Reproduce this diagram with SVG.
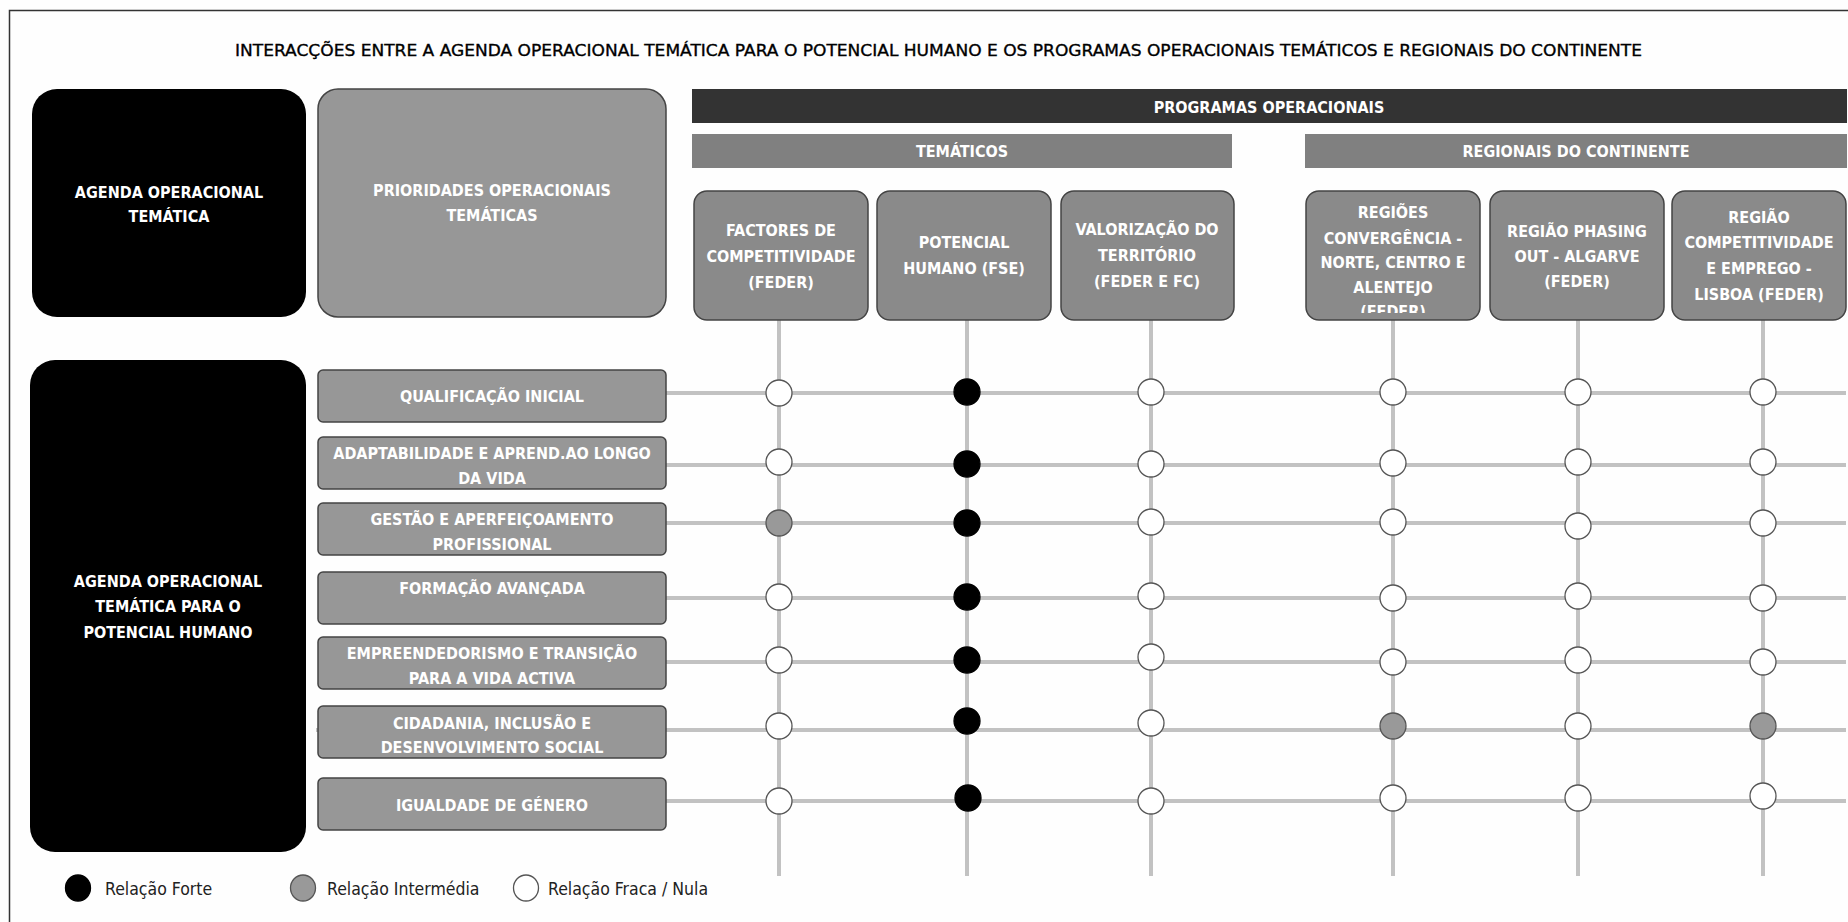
<svg xmlns="http://www.w3.org/2000/svg" width="1848" height="922" viewBox="0 0 1848 922">
<defs>
<style>
.title{font-family:"DejaVu Sans","Liberation Sans",sans-serif;font-size:16px;fill:#000;stroke:#000;stroke-width:0.35}
.lbl{font-family:"DejaVu Sans Condensed","DejaVu Sans",sans-serif;font-weight:bold;font-size:16px;fill:#fff;text-anchor:middle}
.leg{font-family:"DejaVu Sans Condensed","DejaVu Sans",sans-serif;font-size:17.5px;fill:#222}
.blk{fill:#000}
.gbox{fill:#979797;stroke:#444;stroke-width:1.5}
.hbox{fill:#8a8a8a;stroke:#444;stroke-width:1.5}
.line{stroke:#c2c2c2;stroke-width:4;fill:none}
.w{fill:#fff;stroke:#555;stroke-width:1.3}
.g{fill:#999;stroke:#555;stroke-width:1.3}
.b{fill:#000;stroke:#000;stroke-width:1.3}
</style>
<clipPath id="clip4"><rect x="1306" y="191" width="174" height="122"/></clipPath>
</defs>
<rect x="0" y="0" width="1848" height="922" fill="#fefefe"/>
<rect x="9.5" y="10.5" width="1860" height="930" fill="none" stroke="#333" stroke-width="1.5"/>
<text class="title" x="235" y="56" textLength="1407" lengthAdjust="spacingAndGlyphs">INTERACÇÕES ENTRE A AGENDA OPERACIONAL TEMÁTICA PARA O POTENCIAL HUMANO E OS PROGRAMAS OPERACIONAIS TEMÁTICOS E REGIONAIS DO CONTINENTE</text>

<g id="connectors">
<line class="line" x1="779" y1="320" x2="779" y2="876"/>
<line class="line" x1="967" y1="320" x2="967" y2="876"/>
<line class="line" x1="1151" y1="320" x2="1151" y2="876"/>
<line class="line" x1="1393" y1="320" x2="1393" y2="876"/>
<line class="line" x1="1578" y1="320" x2="1578" y2="876"/>
<line class="line" x1="1763" y1="320" x2="1763" y2="876"/>
<line class="line" x1="666" y1="393" x2="1846" y2="393"/>
<line class="line" x1="666" y1="465" x2="1846" y2="465"/>
<line class="line" x1="666" y1="523" x2="1846" y2="523"/>
<line class="line" x1="666" y1="598" x2="1846" y2="598"/>
<line class="line" x1="666" y1="662" x2="1846" y2="662"/>
<line class="line" x1="316" y1="730" x2="1846" y2="730"/>
<line class="line" x1="666" y1="801" x2="1846" y2="801"/>
</g>

<g id="agenda-top">
<rect class="blk" x="32" y="89" width="274" height="228" rx="25"/>
<text class="lbl"><tspan x="169" y="197.5">AGENDA OPERACIONAL</tspan><tspan x="169" y="221.5">TEMÁTICA</tspan></text>
</g>
<g id="prioridades">
<rect class="gbox" x="318" y="89" width="348" height="228" rx="20"/>
<text class="lbl"><tspan x="492" y="196">PRIORIDADES OPERACIONAIS</tspan><tspan x="492" y="221">TEMÁTICAS</tspan></text>
</g>
<g id="programas">
<rect x="692" y="89" width="1155" height="34" fill="#333"/>
<text class="lbl" x="1269" y="112.5">PROGRAMAS OPERACIONAIS</text>
</g>
<g id="tematicos">
<rect x="692" y="134" width="540" height="34" fill="#808080"/>
<text class="lbl" x="962" y="157">TEMÁTICOS</text>
</g>
<g id="regionais">
<rect x="1305" y="134" width="542" height="34" fill="#808080"/>
<text class="lbl" x="1576" y="157">REGIONAIS DO CONTINENTE</text>
</g>

<g id="col-factores">
<rect class="hbox" x="694" y="191" width="174" height="129" rx="13"/>
<text class="lbl"><tspan x="781" y="236">FACTORES DE</tspan><tspan x="781" y="262">COMPETITIVIDADE</tspan><tspan x="781" y="288">(FEDER)</tspan></text>
</g>
<g id="col-potencial">
<rect class="hbox" x="877" y="191" width="174" height="129" rx="13"/>
<text class="lbl"><tspan x="964" y="248">POTENCIAL</tspan><tspan x="964" y="274">HUMANO (FSE)</tspan></text>
</g>
<g id="col-valorizacao">
<rect class="hbox" x="1061" y="191" width="173" height="129" rx="13"/>
<text class="lbl"><tspan x="1147" y="235">VALORIZAÇÃO DO</tspan><tspan x="1147" y="261">TERRITÓRIO</tspan><tspan x="1147" y="287">(FEDER E FC)</tspan></text>
</g>
<g id="col-convergencia">
<rect class="hbox" x="1306" y="191" width="174" height="129" rx="13"/>
<text class="lbl" clip-path="url(#clip4)"><tspan x="1393" y="218">REGIÕES</tspan><tspan x="1393" y="243.5">CONVERGÊNCIA -</tspan><tspan x="1393" y="268">NORTE, CENTRO E</tspan><tspan x="1393" y="292.5">ALENTEJO</tspan><tspan x="1393" y="317">(FEDER)</tspan></text>
</g>
<g id="col-phasing">
<rect class="hbox" x="1490" y="191" width="174" height="129" rx="13"/>
<text class="lbl"><tspan x="1577" y="237">REGIÃO PHASING</tspan><tspan x="1577" y="262">OUT - ALGARVE</tspan><tspan x="1577" y="287">(FEDER)</tspan></text>
</g>
<g id="col-competitividade">
<rect class="hbox" x="1672" y="191" width="174" height="129" rx="13"/>
<text class="lbl"><tspan x="1759" y="222.5">REGIÃO</tspan><tspan x="1759" y="248">COMPETITIVIDADE</tspan><tspan x="1759" y="274">E EMPREGO -</tspan><tspan x="1759" y="300">LISBOA (FEDER)</tspan></text>
</g>

<g id="agenda-potencial">
<rect class="blk" x="30" y="360" width="276" height="492" rx="25"/>
<text class="lbl"><tspan x="168" y="587">AGENDA OPERACIONAL</tspan><tspan x="168" y="612">TEMÁTICA PARA O</tspan><tspan x="168" y="638">POTENCIAL HUMANO</tspan></text>
</g>

<g id="row-qualificacao">
<rect class="gbox" x="318" y="370" width="348" height="52" rx="5"/>
<text class="lbl" x="492" y="402">QUALIFICAÇÃO INICIAL</text>
</g>
<g id="row-adaptabilidade">
<rect class="gbox" x="318" y="437" width="348" height="52" rx="5"/>
<text class="lbl"><tspan x="492" y="459">ADAPTABILIDADE E APREND.AO LONGO</tspan><tspan x="492" y="483.5">DA VIDA</tspan></text>
</g>
<g id="row-gestao">
<rect class="gbox" x="318" y="503" width="348" height="52" rx="5"/>
<text class="lbl"><tspan x="492" y="525">GESTÃO E APERFEIÇOAMENTO</tspan><tspan x="492" y="550">PROFISSIONAL</tspan></text>
</g>
<g id="row-formacao">
<rect class="gbox" x="318" y="572" width="348" height="52" rx="5"/>
<text class="lbl" x="492" y="594">FORMAÇÃO AVANÇADA</text>
</g>
<g id="row-empreendedorismo">
<rect class="gbox" x="318" y="637" width="348" height="52" rx="5"/>
<text class="lbl"><tspan x="492" y="658.5">EMPREENDEDORISMO E TRANSIÇÃO</tspan><tspan x="492" y="684">PARA A VIDA ACTIVA</tspan></text>
</g>
<g id="row-cidadania">
<rect class="gbox" x="318" y="706" width="348" height="52" rx="5"/>
<text class="lbl"><tspan x="492" y="728.5">CIDADANIA, INCLUSÃO E</tspan><tspan x="492" y="753">DESENVOLVIMENTO SOCIAL</tspan></text>
</g>
<g id="row-igualdade">
<rect class="gbox" x="318" y="778" width="348" height="52" rx="5"/>
<text class="lbl" x="492" y="811">IGUALDADE DE GÉNERO</text>
</g>

<g id="relations">
<circle class="w" cx="779" cy="393" r="13"/>
<circle class="w" cx="779" cy="462" r="13"/>
<circle class="g" cx="779" cy="523" r="13"/>
<circle class="w" cx="779" cy="597" r="13"/>
<circle class="w" cx="779" cy="660" r="13"/>
<circle class="w" cx="779" cy="726" r="13"/>
<circle class="w" cx="779" cy="801" r="13"/>
<circle class="b" cx="967" cy="392" r="13"/>
<circle class="b" cx="967" cy="464" r="13"/>
<circle class="b" cx="967" cy="523" r="13"/>
<circle class="b" cx="967" cy="597" r="13"/>
<circle class="b" cx="967" cy="660" r="13"/>
<circle class="b" cx="967" cy="721" r="13"/>
<circle class="b" cx="968" cy="798" r="13"/>
<circle class="w" cx="1151" cy="392" r="13"/>
<circle class="w" cx="1151" cy="464" r="13"/>
<circle class="w" cx="1151" cy="522" r="13"/>
<circle class="w" cx="1151" cy="596" r="13"/>
<circle class="w" cx="1151" cy="657" r="13"/>
<circle class="w" cx="1151" cy="723" r="13"/>
<circle class="w" cx="1151" cy="801" r="13"/>
<circle class="w" cx="1393" cy="392" r="13"/>
<circle class="w" cx="1393" cy="463" r="13"/>
<circle class="w" cx="1393" cy="522" r="13"/>
<circle class="w" cx="1393" cy="598" r="13"/>
<circle class="w" cx="1393" cy="662" r="13"/>
<circle class="g" cx="1393" cy="726" r="13"/>
<circle class="w" cx="1393" cy="798" r="13"/>
<circle class="w" cx="1578" cy="392" r="13"/>
<circle class="w" cx="1578" cy="462" r="13"/>
<circle class="w" cx="1578" cy="526" r="13"/>
<circle class="w" cx="1578" cy="596" r="13"/>
<circle class="w" cx="1578" cy="660" r="13"/>
<circle class="w" cx="1578" cy="726" r="13"/>
<circle class="w" cx="1578" cy="798" r="13"/>
<circle class="w" cx="1763" cy="392" r="13"/>
<circle class="w" cx="1763" cy="462" r="13"/>
<circle class="w" cx="1763" cy="523" r="13"/>
<circle class="w" cx="1763" cy="598" r="13"/>
<circle class="w" cx="1763" cy="662" r="13"/>
<circle class="g" cx="1763" cy="726" r="13"/>
<circle class="w" cx="1763" cy="796" r="13"/>
</g>

<g id="legend">
<ellipse class="b" cx="78" cy="888" rx="12.5" ry="13"/>
<text class="leg" x="105" y="895">Relação Forte</text>
<ellipse class="g" cx="303" cy="888" rx="12.5" ry="13"/>
<text class="leg" x="327" y="895">Relação Intermédia</text>
<ellipse class="w" cx="526" cy="888" rx="12.5" ry="13"/>
<text class="leg" x="548" y="895">Relação Fraca / Nula</text>
</g>
</svg>
